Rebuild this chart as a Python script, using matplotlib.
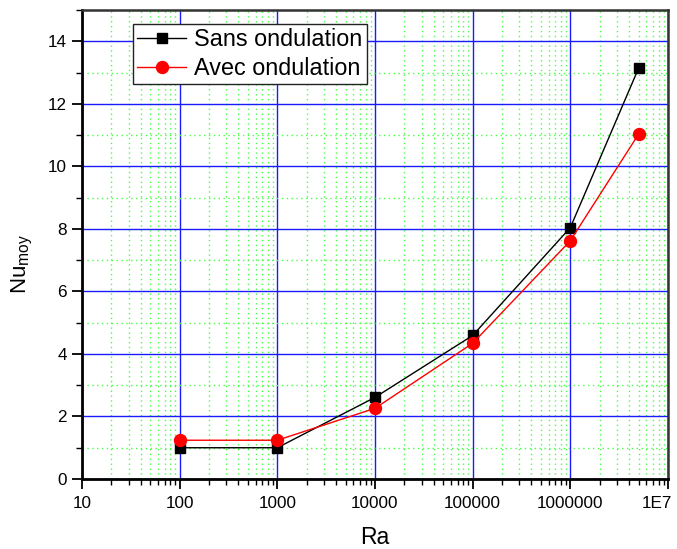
import numpy as np
import matplotlib
matplotlib.use('Agg')
import matplotlib.pyplot as plt
from matplotlib.ticker import LogLocator, FixedLocator, FixedFormatter, MultipleLocator
from matplotlib.transforms import ScaledTranslation

# Data
ra = [100, 1000, 10000, 100000, 1000000, 5000000]
nu_sans = [1.0, 1.0, 2.61, 4.59, 8.04, 13.14]
nu_avec = [1.24, 1.24, 2.26, 4.34, 7.62, 11.03]
xtick_vals = [10, 100, 1000, 10000, 100000, 1000000, 10000000]
xtick_labels = ['10', '100', '1000', '10000', '100000', '1000000', '1E7']

plt.rcParams['font.family'] = ['Liberation Sans', 'DejaVu Sans']
plt.rcParams['mathtext.fontset'] = 'custom'
plt.rcParams['mathtext.rm'] = 'Liberation Sans'

fig = plt.figure(figsize=(6.77, 5.49), dpi=100)
ax = fig.add_axes([0.1211, 0.1275, 0.8656, 0.8543])

ax.set_xscale('log')
ax.set_xlim(10, 1e7)
ax.set_ylim(0, 15)

# grid: blue major, green dotted minor
ax.xaxis.set_major_locator(FixedLocator(xtick_vals))
ax.xaxis.set_major_formatter(FixedFormatter(xtick_labels))
ax.xaxis.set_minor_locator(LogLocator(base=10, subs=np.arange(2, 10), numticks=20))
ax.yaxis.set_major_locator(FixedLocator(np.arange(0, 15, 2)))
ax.yaxis.set_minor_locator(MultipleLocator(1))

ax.grid(which='minor', color='#44ff44', linestyle=(0, (1, 2.5)), linewidth=1.0)
ax.grid(which='major', color='#1a1aff', linestyle='-', linewidth=1.0)
ax.set_axisbelow(True)

ax.plot(ra, nu_sans, color='black', linewidth=1, marker='s', markersize=7.3,
        label='Sans ondulation', zorder=3)
ax.plot(ra, nu_avec, color='red', linewidth=1, marker='o', markersize=8.6,
        label='Avec ondulation', zorder=3)

ax.tick_params(which='major', direction='out', length=7, width=1.3, labelsize=12.3,
               top=False, right=False)
ax.tick_params(axis='x', which='major', pad=5)
ax.tick_params(axis='y', which='major', pad=4)
ax.tick_params(which='minor', direction='out', length=4, width=1.0,
               top=False, right=False)

for side in ['left', 'bottom']:
    ax.spines[side].set_linewidth(2)
    ax.spines[side].set_color('black')
for side in ['top', 'right']:
    ax.spines[side].set_linewidth(1.8)
    ax.spines[side].set_color('#333333')

# last tick label sits a bit inside, like the original
last = ax.get_xticklabels()[-1]
last.set_transform(last.get_transform() + ScaledTranslation(-8 / 72, 0, fig.dpi_scale_trans))

ax.set_xlabel('Ra', fontsize=16.5, labelpad=11)
fig.text(22 / 677, 1 - 264 / 549, r'Nu$_{\mathregular{moy}}$', fontsize=16,
         rotation=90, ha='center', va='center')

leg = ax.legend(loc='upper left', bbox_to_anchor=(0.087, 0.971), fontsize=16.8,
                frameon=True, fancybox=False, edgecolor='#222222', framealpha=1,
                borderpad=0.18, labelspacing=0.26, handlelength=2.1,
                handletextpad=0.35, borderaxespad=0)
leg.get_frame().set_linewidth(1.0)

fig.savefig('out.png', dpi=100)
